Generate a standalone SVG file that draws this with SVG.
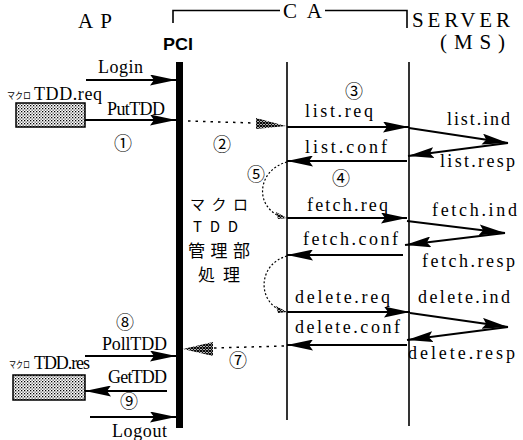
<svg xmlns="http://www.w3.org/2000/svg" width="523" height="440" viewBox="0 0 523 440">
<style>
.t{font-family:"Liberation Serif","Times New Roman",serif;font-size:18px;fill:#000}
.h{font-family:"Liberation Serif","Times New Roman",serif;font-size:21px;fill:#000}
.j{font-family:"Noto Sans CJK JP",sans-serif;fill:#000}
.n{font-family:"Noto Sans CJK JP",sans-serif;font-size:18px;fill:#000;text-anchor:middle}
.ln{stroke:#000;stroke-width:1.6;fill:none}
.ar{stroke:#000;stroke-width:1.8;fill:none;marker-end:url(#ah)}
.dot{stroke:#000;stroke-width:1.5;fill:none;stroke-dasharray:2.5,5}
.arc{stroke:#000;stroke-width:1.2;fill:none;stroke-dasharray:2,2}
.box{fill:url(#stip);stroke:#000;stroke-width:1.5}
.hat{fill:url(#xh);stroke:none}
</style>
<defs>
<marker id="ah" markerUnits="userSpaceOnUse" markerWidth="27" markerHeight="11" refX="26" refY="5.5" orient="auto">
<path d="M0,0 L26,5.5 L0,11 L4,5.5 z" fill="#000"/>
</marker>
<pattern id="stip" width="3" height="3" patternUnits="userSpaceOnUse">
<rect width="3" height="3" fill="#fff"/>
<rect x="0" y="0" width="1.3" height="1.3" fill="#000"/>
<rect x="1.5" y="1.5" width="1.3" height="1.3" fill="#555"/>
</pattern>
<pattern id="xh" width="3" height="3" patternUnits="userSpaceOnUse">
<rect width="3" height="3" fill="#fff"/>
<path d="M0,0 L3,3 M3,0 L0,3" stroke="#000" stroke-width="1.2"/>
</pattern>
</defs>

<g id="headers">
<text class="h" x="78" y="28" textLength="34" lengthAdjust="spacing">AP</text>
<text class="h" x="283" y="18" textLength="39" lengthAdjust="spacing">CA</text>
<text class="h" x="412" y="27" textLength="98" lengthAdjust="spacing">SERVER</text>
<text class="h" x="440" y="49" textLength="65" lengthAdjust="spacing">(MS)</text>
<path class="ln" d="M173,23 V10.5 H280 M325,10.5 H407 V28" stroke-width="1.3"/>
</g>

<g id="pci">
<rect x="176" y="62" width="7" height="366" fill="#000"/>
<text x="163" y="50" font-family="Liberation Sans,Arial,sans-serif" font-weight="bold" font-size="17" textLength="30" lengthAdjust="spacingAndGlyphs">PCI</text>
</g>

<g id="ca">
<line class="ln" x1="287" y1="62" x2="287" y2="420"/>
<line class="ln" x1="409" y1="62" x2="409" y2="426"/>
</g>

<g id="macro-label">
<text class="j" x="190" y="210" font-size="15" textLength="58" lengthAdjust="spacing">マクロ</text>
<text class="j" x="193" y="232" font-size="15" textLength="45" lengthAdjust="spacing">TDD</text>
<text class="j" x="188" y="257" font-size="17" textLength="62" lengthAdjust="spacing">管理部</text>
<text class="j" x="198" y="281" font-size="17" textLength="42" lengthAdjust="spacing">処理</text>
</g>

<g id="req-box">
<rect class="box" x="16" y="103" width="69" height="24"/>
<text class="j" x="7" y="99" font-size="9" textLength="24" lengthAdjust="spacingAndGlyphs">マクロ</text>
<text class="t" x="34" y="100" font-size="16" textLength="68" lengthAdjust="spacing">TDD.req</text>
</g>

<g id="res-box">
<rect class="box" x="13" y="375" width="72" height="25"/>
<text class="j" x="9" y="368" font-size="9" textLength="21" lengthAdjust="spacingAndGlyphs">マクロ</text>
<text class="t" x="34" y="369" font-size="16" textLength="56" lengthAdjust="spacing">TDD.res</text>
</g>

<g id="connectors">
<line class="ar" x1="86" y1="80" x2="176" y2="80"/>
<line class="ar" x1="85" y1="120" x2="176" y2="120"/>
<line class="dot" x1="188" y1="121" x2="254" y2="123"/>
<polygon class="hat" points="256,118 286,126 256,129"/>
<line class="ar" x1="287" y1="127" x2="409" y2="127"/>
<line class="ar" x1="409" y1="128" x2="508" y2="143"/>
<line class="ar" x1="508" y1="143" x2="408" y2="156"/>
<line class="ar" x1="407" y1="161" x2="287" y2="161"/>
<path class="arc" d="M287,162 C257,170 253,208 284,218"/>
<polygon class="hat" points="276,212 287,218 278,219"/>
<line class="ar" x1="287" y1="218" x2="407" y2="218"/>
<line class="ar" x1="407" y1="221" x2="505" y2="233"/>
<line class="ar" x1="505" y1="233" x2="405" y2="245"/>
<line class="ar" x1="403" y1="255" x2="287" y2="255"/>
<path class="arc" d="M287,256 C258,264 256,302 284,312"/>
<polygon class="hat" points="276,306 287,312 278,313"/>
<line class="ar" x1="287" y1="312" x2="410" y2="312"/>
<line class="ar" x1="410" y1="313" x2="508" y2="327"/>
<line class="ar" x1="508" y1="327" x2="407" y2="340"/>
<line class="ar" x1="407" y1="345" x2="287" y2="345"/>
<line class="dot" x1="284" y1="346" x2="214" y2="348"/>
<polygon class="hat" points="213,342 183,349 213,356"/>
<line class="ar" x1="85" y1="356" x2="176" y2="356"/>
<line class="ar" x1="167" y1="391" x2="85" y2="391"/>
<line class="ar" x1="90" y1="417" x2="176" y2="417"/>
</g>

<g id="labels">
<text class="t" x="98" y="73" textLength="45" lengthAdjust="spacing">Login</text>
<text class="t" x="107" y="115" textLength="58" lengthAdjust="spacing">PutTDD</text>
<text class="t" x="305" y="117" textLength="68" lengthAdjust="spacing">list.req</text>
<text class="t" x="447" y="125" textLength="63" lengthAdjust="spacing">list.ind</text>
<text class="t" x="305" y="153" textLength="82" lengthAdjust="spacing">list.conf</text>
<text class="t" x="440" y="167" textLength="75" lengthAdjust="spacing">list.resp</text>
<text class="t" x="307" y="211" textLength="81" lengthAdjust="spacing">fetch.req</text>
<text class="t" x="432" y="216" textLength="85" lengthAdjust="spacing">fetch.ind</text>
<text class="t" x="303" y="245" textLength="95" lengthAdjust="spacing">fetch.conf</text>
<text class="t" x="422" y="267" textLength="93" lengthAdjust="spacing">fetch.resp</text>
<text class="t" x="295" y="303" textLength="95" lengthAdjust="spacing">delete.req</text>
<text class="t" x="418" y="303" textLength="92" lengthAdjust="spacing">delete.ind</text>
<text class="t" x="295" y="333" textLength="105" lengthAdjust="spacing">delete.conf</text>
<text class="t" x="408" y="359" textLength="107" lengthAdjust="spacing">delete.resp</text>
<text class="t" x="102" y="350" textLength="65" lengthAdjust="spacing">PollTDD</text>
<text class="t" x="108" y="383" textLength="59" lengthAdjust="spacing">GetTDD</text>
<text class="t" x="112" y="437" textLength="55" lengthAdjust="spacing">Logout</text>
</g>

<g id="steps">
<text class="n" x="123" y="150">①</text>
<text class="n" x="222" y="151">②</text>
<text class="n" x="354" y="98">③</text>
<text class="n" x="341" y="185">④</text>
<text class="n" x="256" y="181">⑤</text>
<text class="n" x="238" y="367">⑦</text>
<text class="n" x="125" y="329">⑧</text>
<text class="n" x="129" y="408" font-size="16">⑨</text>
</g>
</svg>
